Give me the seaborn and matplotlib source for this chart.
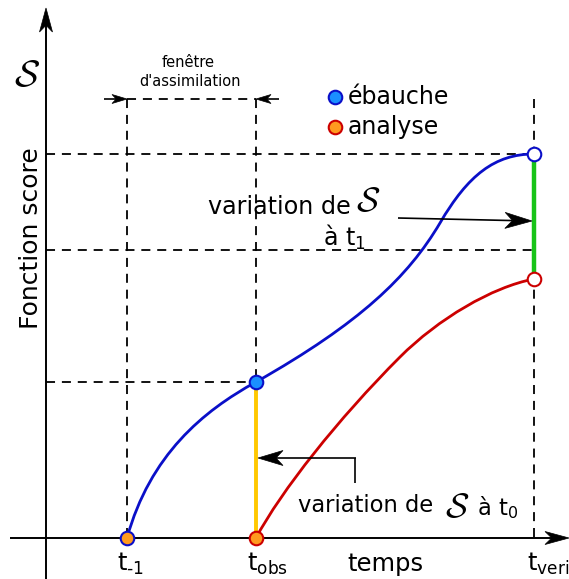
import matplotlib
matplotlib.use("Agg")
import matplotlib.pyplot as plt
from matplotlib.path import Path
from matplotlib.patches import PathPatch, Polygon
import numpy as np
import seaborn as sns

sns.set_theme(style="white", rc={"text.color": "black"})
plt.rcParams["font.family"] = ["DejaVu Sans"]

# key instants on the time axis
t_prev, t_obs, t_verif = 127, 256, 534
time_origin = 46
score_floor = 538

# score levels (screen units, smaller = higher score)
score_obs_background = 382
score_verif_background = 154
score_verif_analysis = 279
score_guides = [154, 250]

# background (ébauche) trajectory: cubic Bézier nodes and handles
ebauche_t = [127, 150, 203, 256, 360, 408, 440, 468, 495, 534]
ebauche_s = [538, 455, 411, 382, 323, 277, 223, 175, 154, 154]

# analysis trajectory: cubic Bézier nodes and handles
analyse_t = [256, 281, 338, 400, 438, 492, 534]
analyse_s = [538, 491, 419, 357, 319, 287, 279]

# legend entries
legend_labels = ["ébauche", "analyse"]

blue_line = "#0a0fc8"
red_line = "#cc0000"
blue_fill = "#1a8fff"
orange_fill = "#ff9a1f"

fig = plt.figure(figsize=(5.69, 5.79), dpi=100)
ax = fig.add_axes([0, 0, 1, 1])


def stealth_arrow(ax, start, tip, length, width, lw=1.2, zorder=4):
    """Straight shaft with a notched (stealth) head at `tip`."""
    start = np.asarray(start, float)
    tip = np.asarray(tip, float)
    d = (tip - start) / np.linalg.norm(tip - start)
    n = np.array([-d[1], d[0]])
    back = tip - length * d
    notch = tip - 0.72 * length * d
    head = [tip, back + 0.5 * width * n, notch, back - 0.5 * width * n]
    ax.plot([start[0], notch[0]], [start[1], notch[1]], color="black", lw=lw,
            solid_capstyle="butt", zorder=zorder)
    ax.add_patch(Polygon(head, closed=True, fc="black", ec="black", lw=0.5, zorder=zorder))


def bezier_curve(ax, xs, ys, color, lw, zorder=3):
    verts = list(zip(xs, ys))
    codes = [Path.MOVETO] + [Path.CURVE4] * (len(verts) - 1)
    ax.add_patch(PathPatch(Path(verts, codes), fc="none", ec=color, lw=lw,
                           capstyle="round", zorder=zorder))


# model states and legend markers (seaborn)
states = [
    (t_prev, score_floor, orange_fill, blue_line),
    (t_obs, score_floor, orange_fill, red_line),
    (t_obs, score_obs_background, blue_fill, blue_line),
    (t_verif, score_verif_background, "white", blue_line),
    (t_verif, score_verif_analysis, "white", red_line),
    (335, 97, blue_fill, blue_line),
    (335, 127, orange_fill, red_line),
]
for x, y, fc, ec in states:
    sns.scatterplot(x=[x], y=[y], s=95, color=fc, edgecolor=ec, linewidth=1.5,
                    ax=ax, zorder=5, legend=False)

ax.set_xlim(0, 569)
ax.set_ylim(579, 0)
ax.axis("off")

dash = dict(color="black", lw=1.3, ls=(0, (5, 3.8)), zorder=1)

# guide lines
for x in (t_prev, t_obs, t_verif):
    ax.plot([x, x], [99, score_floor], **dash)
ax.plot([t_prev, t_obs], [99, 99], **dash)
for s in score_guides:
    ax.plot([time_origin, t_verif], [s, s], **dash)
ax.plot([time_origin, t_obs], [score_obs_background, score_obs_background], **dash)

# assimilation window
stealth_arrow(ax, (104, 99), (t_prev, 99), 15, 9)
stealth_arrow(ax, (279, 99), (t_obs, 99), 15, 9)
ax.text(188, 67, "fenêtre", ha="center", va="baseline", fontsize=10.5)
ax.text(190, 86, "d'assimilation", ha="center", va="baseline", fontsize=10.5)

# axes
stealth_arrow(ax, (time_origin, 579), (time_origin, 8), 24, 13, lw=1.4)
stealth_arrow(ax, (10, score_floor), (569, score_floor), 24, 13, lw=1.4)

# score differences
ax.plot([t_obs, t_obs], [score_obs_background, score_floor], color="#ffc800", lw=2.8, zorder=2)
ax.plot([t_verif, t_verif], [score_verif_background, score_verif_analysis],
        color="#18c418", lw=3.2, zorder=2)

# trajectories
bezier_curve(ax, ebauche_t, ebauche_s, blue_line, 2.0)
bezier_curve(ax, analyse_t, analyse_s, red_line, 2.0)

# legend labels
for y, label in zip([97, 127], legend_labels):
    ax.text(348, y, label, fontsize=17, va="center")

# annotations
ax.text(208, 207, "variation de", fontsize=17.2, va="center")
ax.text(368, 201, r"$\mathcal{S}$", fontsize=25, ha="center", va="center",
        math_fontfamily="cm")
ax.text(323, 246, "à t$_1$", fontsize=17.2, va="baseline")
stealth_arrow(ax, (398, 218), (532, 221), 27, 16)

ax.text(298, 506, "variation de", fontsize=16.3, va="center")
ax.text(457, 507, r"$\mathcal{S}$", fontsize=25, ha="center", va="center",
        math_fontfamily="cm")
ax.text(477, 515, "à t$_0$", fontsize=16.3, va="baseline")
ax.plot([355, 355], [483, 458], color="black", lw=1.2, solid_capstyle="butt")
stealth_arrow(ax, (355.6, 458), (258, 458), 25, 15)

# axis labels
ax.text(27, 76, r"$\mathcal{S}$", fontsize=27, ha="center", va="center", math_fontfamily="cm")
ax.text(31, 238, "Fonction score", fontsize=18, rotation=90, ha="center", va="center")
ax.text(117, 571, "t$_{\u2010\\mathregular{1}}$", fontsize=17.5, va="baseline")
ax.text(247, 571, r"t$_{\mathregular{obs}}$", fontsize=17.5, va="baseline")
ax.text(385, 571, "temps", fontsize=17.5, ha="center", va="baseline")
ax.text(527, 571, r"t$_{\mathregular{verif}}$", fontsize=17.5, va="baseline")

fig.savefig("out.png", dpi=100)
